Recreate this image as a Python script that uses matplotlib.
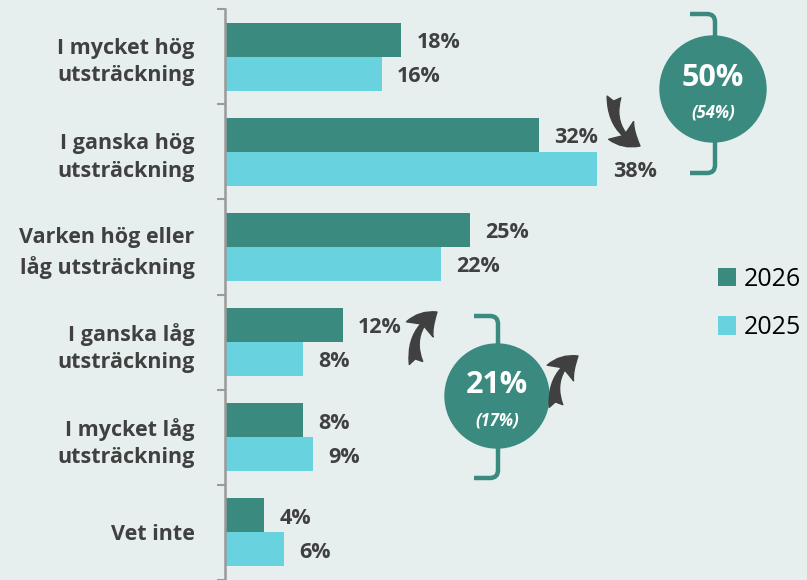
import matplotlib
matplotlib.use('Agg')
import matplotlib.pyplot as plt
import numpy as np
from matplotlib.patches import Ellipse, FancyArrowPatch, PathPatch
from matplotlib.path import Path

categories = ['I mycket hög\nutsträckning', 'I ganska hög\nutsträckning',
              'Varken hög eller\nlåg utsträckning', 'I ganska låg\nutsträckning',
              'I mycket låg\nutsträckning', 'Vet inte']
vals_2026 = [18, 32, 25, 12, 8, 4]
vals_2025 = [16, 38, 22, 8, 9, 6]
series_names = ['2026', '2025']
sum_high = ('50%', '(54%)')
sum_low = ('21%', '(17%)')

BG = '#E6EEEE'
DARK = '#3A8A80'
LIGHT = '#68D3DE'
TXT = '#404040'
W, H = 807, 580

plt.rcParams['font.family'] = ['Open Sans', 'DejaVu Sans']

fig = plt.figure(figsize=(W / 100, H / 100), dpi=100, facecolor=BG)
ax = fig.add_axes([225 / W, 0, (W - 225) / W, 571 / H])
ax.set_facecolor(BG)

y = np.arange(len(categories))
bh = 0.357
b1 = ax.barh(y - bh / 2, vals_2026, height=bh, color=DARK, label=series_names[0])
b2 = ax.barh(y + bh / 2, vals_2025, height=bh, color=LIGHT, label=series_names[1])
ax.set_xlim(0, 582 / 9.8)
ax.set_ylim(len(categories) - 0.5, -0.5)

for bars in (b1, b2):
    for r in bars:
        ax.annotate(f'{r.get_width():.0f}%', (r.get_width(), r.get_y() + r.get_height() / 2),
                    xytext=(11, -2), textcoords='offset points', va='center', ha='left',
                    fontsize=15.5, fontweight='bold', color=TXT)

# axes styling
for s in ['top', 'right', 'bottom']:
    ax.spines[s].set_visible(False)
ax.spines['left'].set_color('#9A9A9A')
ax.spines['left'].set_linewidth(1.8)
ax.set_xticks([])
ax.set_yticks(y)
ax.set_yticklabels(categories, fontsize=15.5, fontweight='bold', color=TXT, linespacing=1.4)
ax.tick_params(axis='y', which='major', length=0, pad=22)
ax.set_yticks(np.arange(-0.5, len(categories)), minor=True)
ax.tick_params(axis='y', which='minor', length=6, width=1.5, color='#9A9A9A')

leg = fig.legend(handles=[b1, b2], loc='upper left', bbox_to_anchor=(705 / W, 1 - 254 / H),
                 frameon=False, fontsize=18, handlelength=0.75, handleheight=0.75,
                 handletextpad=0.3, labelspacing=0.95, borderpad=0, labelcolor='black')


def px(xp, yp):
    return (xp / W, 1 - yp / H)


def badge(cx, cy, r, big, small, bx, btop, bbot, arm):
    fig.patches.append(Ellipse(px(cx, cy), 2 * r / W, 2 * r / H, transform=fig.transFigure,
                               color=DARK, zorder=3))
    c = 8
    verts = [px(bx - arm, btop), px(bx - c, btop), px(bx, btop), px(bx, btop + c),
             px(bx, bbot - c), px(bx, bbot), px(bx - c, bbot), px(bx - arm, bbot)]
    codes = [Path.MOVETO, Path.LINETO, Path.CURVE3, Path.CURVE3,
             Path.LINETO, Path.CURVE3, Path.CURVE3, Path.LINETO]
    fig.patches.append(PathPatch(Path(verts, codes), transform=fig.transFigure, fill=False,
                                 edgecolor=DARK, linewidth=3.2, capstyle='butt', zorder=2))
    fig.text(*px(cx, cy - 11), big, ha='center', va='center', color='white',
             fontsize=22, fontweight='bold', zorder=4)
    fig.text(*px(cx, cy + 24), small, ha='center', va='center', color='white',
             fontsize=12, fontweight='bold', style='italic', zorder=4)


badge(713, 89, 53, *sum_high, 715, 14, 173, 25)
badge(497, 396, 52, *sum_low, 498, 316, 478, 24)


def curved_arrow(p0, p1, rad):
    a = FancyArrowPatch(px(*p0), px(*p1), transform=fig.transFigure,
                        connectionstyle=f'arc3,rad={rad}',
                        arrowstyle='fancy,head_length=0.8,head_width=1.0,tail_width=0.45',
                        mutation_scale=22, color=TXT, zorder=5, shrinkA=0, shrinkB=0)
    fig.patches.append(a)


curved_arrow((614, 97), (640, 146), 0.35)
curved_arrow((416, 363), (437, 312), -0.35)
curved_arrow((556, 406), (578, 356), -0.35)

fig.savefig('out.png', dpi=100, facecolor=BG)
